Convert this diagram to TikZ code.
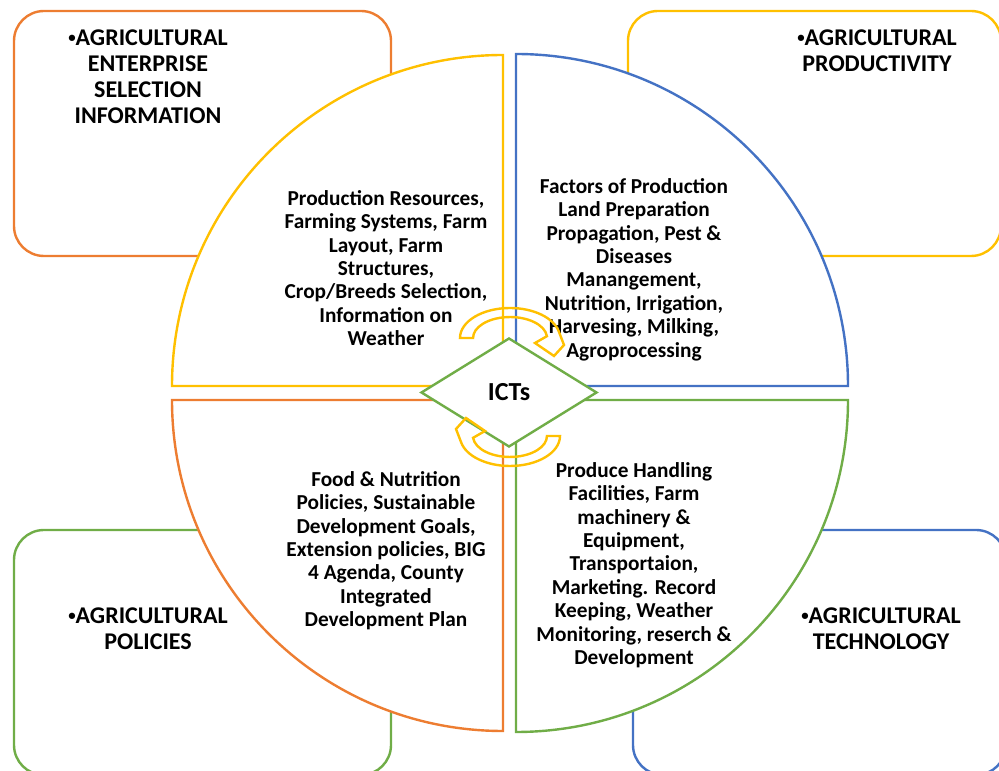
\documentclass[tikz,border=0pt]{standalone}
\usepackage{fontspec}
\setmainfont{Carlito}
\usetikzlibrary{shapes.geometric}
\definecolor{cOr}{HTML}{ED7D31}
\definecolor{cYe}{HTML}{FFC000}
\definecolor{cBl}{HTML}{4472C4}
\definecolor{cGr}{HTML}{70AD47}
\newcommand{\smallbul}{\raisebox{0.13em}{\scalebox{0.62}{•}}}
\tikzset{
  outerbox/.style={line width=2.4pt, rounded corners=30pt, fill=white},
  pie/.style={line width=2.4pt, fill=white, line join=miter},
  headtext/.style={inner sep=0pt, align=center, anchor=north, font=\bfseries\fontsize{24}{26}\selectfont},
  bodytext/.style={inner sep=0pt, align=center, anchor=north, font=\bfseries\fontsize{21.3}{23.4}\selectfont},
  hub/.style={shape=diamond, draw=cGr, line width=2.4pt, fill=white, minimum width=176pt, minimum height=109pt, inner sep=0pt, font=\bfseries\fontsize{26}{28}\selectfont},
  arrowband/.style={draw=cYe, line width=2.4pt, line join=miter}
}
\begin{document}
\begin{tikzpicture}[x=1pt,y=1pt]
\useasboundingbox (0,0) rectangle (999,771);
% outer rounded boxes
\draw[outerbox, draw=cOr] (14,515) rectangle (391,760);
\draw[outerbox, draw=cYe] (628,515) rectangle (1001,760);
\draw[outerbox, draw=cGr] (14,-4) rectangle (391,241);
\draw[outerbox, draw=cBl] (633,-4) rectangle (1006,241);
% quarter circles
\draw[pie, draw=cYe] (503,385) -- (172,385) arc[start angle=180, end angle=90, radius=331pt] -- cycle;
\draw[pie, draw=cBl] (516,385) -- (516,717) arc[start angle=90, end angle=0, radius=332pt] -- cycle;
\draw[pie, draw=cOr] (503,371) -- (172,371) arc[start angle=180, end angle=270, radius=331pt] -- cycle;
\draw[pie, draw=cGr] (516,371) -- (848,371) arc[start angle=0, end angle=-90, radius=332pt] -- cycle;
% headers
\node[headtext] (hEnt) at (148,745.2) {\rule{0pt}{0.8em}\smallbul AGRICULTURAL\\ENTERPRISE\\SELECTION\\INFORMATION};
\node[headtext] (hProd) at (877,745.2) {\rule{0pt}{0.8em}\smallbul AGRICULTURAL\\PRODUCTIVITY};
\node[headtext] (hPol) at (148,167.2) {\rule{0pt}{0.8em}\smallbul AGRICULTURAL\\POLICIES};
\node[headtext] (hTech) at (881,167.2) {\rule{0pt}{0.8em}\smallbul AGRICULTURAL\\TECHNOLOGY};
% body texts
\node[bodytext] (tEnt) at (386,583) {\rule{0pt}{0.8em}Production Resources,\\Farming Systems, Farm\\Layout, Farm\\Structures,\\Crop/Breeds Selection,\\Information on\\Weather};
\node[bodytext] (tProd) at (634,595) {\rule{0pt}{0.8em}Factors of Production\\Land Preparation\\Propagation, Pest \&\\Diseases\\Manangement,\\Nutrition, Irrigation,\\Harvesing, Milking,\\Agroprocessing};
\node[bodytext] (tPol) at (386,302) {\rule{0pt}{0.8em}Food \& Nutrition\\Policies, Sustainable\\Development Goals,\\Extension policies, BIG\\4 Agenda, County\\Integrated\\Development Plan};
\node[bodytext] (tTech) at (634,311) {\rule{0pt}{0.8em}Produce Handling\\Facilities, Farm\\machinery \&\\Equipment,\\Transportaion,\\Marketing. Record\\Keeping, Weather\\Monitoring, reserch \&\\Development};
% central hub
\node[hub] (ict) at (509,378.5) {ICTs};
% circular arrows
\draw[arrowband] (460,433) arc[start angle=180, end angle=12, x radius=50pt, y radius=30pt] -- (564,426) -- (554,415) -- (535,428) -- (546.9,434.8) arc[start angle=5, end angle=180, x radius=37pt, y radius=21pt] -- cycle;
\begin{scope}[rotate around={180:(510,384)}]
\draw[arrowband] (460,433) arc[start angle=180, end angle=12, x radius=50pt, y radius=30pt] -- (564,426) -- (554,415) -- (535,428) -- (546.9,434.8) arc[start angle=5, end angle=180, x radius=37pt, y radius=21pt] -- cycle;
\end{scope}
\end{tikzpicture}
\end{document}
